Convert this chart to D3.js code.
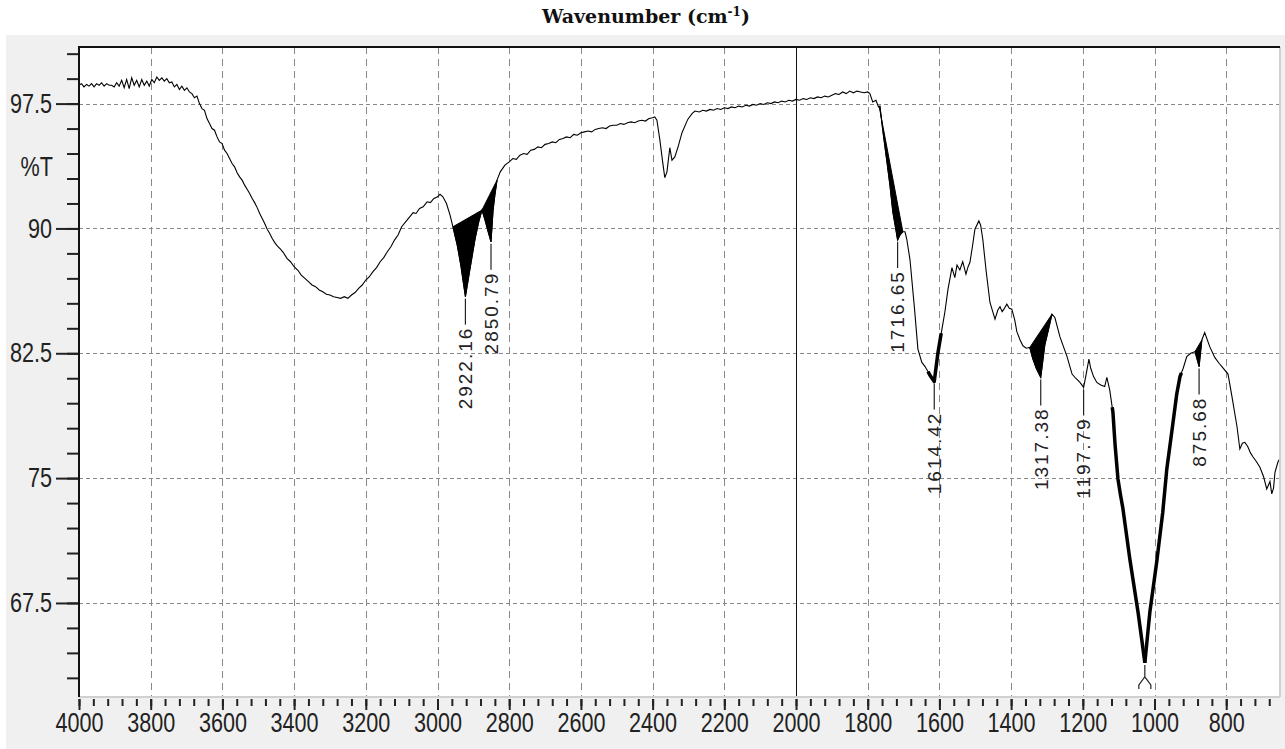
<!DOCTYPE html>
<html>
<head>
<meta charset="utf-8">
<script src="https://d3js.org/d3.v7.min.js"></script>
<style>
    body { margin: 0; background: #ffffff; }
    svg { display: block; }
    .tick-label { font-family: "Liberation Sans", Arial, sans-serif; font-size: 27px; fill: #222; }
    .peak-label { font-family: "Liberation Sans", Arial, sans-serif; font-size: 19px; letter-spacing: 2px; fill: #222; }
</style>
</head>
<body>
<svg id="vis_svg"></svg>
<script>
// Spectrum: [wavenumber cm-1, %T]
const spectrum = [
    [4000, 98.6], [3993, 98.7], [3986, 98.5], [3979, 98.65], [3972, 98.55], [3965, 98.7], [3958, 98.5],
    [3951, 98.7], [3944, 98.6], [3937, 98.75], [3930, 98.55], [3923, 98.7], [3916, 98.6], [3909, 98.6],
    [3902, 98.5], [3895, 98.75], [3888, 98.55], [3881, 98.9], [3874, 98.45], [3867, 98.95], [3860, 98.4],
    [3853, 99.05], [3846, 98.6], [3839, 98.9], [3832, 98.5], [3825, 98.95], [3818, 98.6], [3811, 98.85],
    [3804, 98.55], [3797, 98.95], [3790, 98.75], [3783, 99.1], [3776, 98.9], [3769, 99.05], [3762, 98.85],
    [3755, 99.0], [3748, 98.75], [3741, 98.8], [3734, 98.5], [3727, 98.65], [3720, 98.35], [3713, 98.55],
    [3706, 98.3], [3699, 98.45], [3692, 98.2], [3685, 98.1], [3678, 97.85], [3671, 97.95], [3664, 97.5],
    [3657, 97.2], [3650, 97.1], [3643, 96.6], [3636, 96.3], [3629, 96.0], [3622, 95.9], [3615, 95.5],
    [3608, 95.2], [3601, 95.1], [3594, 94.7], [3587, 94.5], [3580, 94.2], [3573, 93.9], [3566, 93.7],
    [3559, 93.35], [3552, 93.1], [3545, 92.9], [3538, 92.6], [3531, 92.35], [3524, 92.1], [3517, 91.8],
    [3510, 91.55], [3503, 91.25], [3496, 90.9], [3489, 90.6], [3482, 90.3], [3475, 89.95], [3468, 89.7],
    [3461, 89.4], [3454, 89.15], [3447, 88.95], [3438, 88.75], [3430, 88.55], [3420, 88.2], [3410, 88.0],
    [3400, 87.7], [3390, 87.5], [3380, 87.2], [3370, 87.0], [3360, 86.8], [3350, 86.6], [3340, 86.5],
    [3330, 86.3], [3320, 86.2], [3310, 86.05], [3300, 86.0], [3290, 85.9], [3280, 85.85], [3270, 85.8],
    [3260, 85.9], [3250, 85.8], [3240, 86.0], [3230, 86.15], [3220, 86.4], [3210, 86.6], [3200, 86.9],
    [3190, 87.1], [3180, 87.4], [3170, 87.65], [3160, 88.0], [3150, 88.25], [3140, 88.6], [3130, 88.9],
    [3120, 89.3], [3110, 89.6], [3100, 90.1], [3085, 90.5], [3068, 90.95], [3060, 90.9], [3050, 91.2],
    [3040, 91.3], [3029, 91.6], [3020, 91.55], [3010, 91.8], [3000, 91.9], [2993, 92.05], [2985, 91.9],
    [2975, 91.5], [2965, 90.8], [2957, 90.1], [2945, 89.0], [2935, 87.8], [2922.16, 85.9], [2910, 87.5],
    [2895, 89.4], [2885, 90.4], [2876, 91.1], [2868, 90.55], [2860, 89.9], [2850.79, 89.2], [2845, 91.1],
    [2840, 92.0], [2834, 92.9], [2825, 93.4], [2812, 93.8], [2800, 94.0], [2790, 94.2], [2780, 94.15],
    [2770, 94.4], [2760, 94.5], [2750, 94.45], [2740, 94.7], [2730, 94.75], [2720, 94.9], [2710, 94.85],
    [2700, 95.05], [2690, 95.1], [2680, 95.2], [2670, 95.15], [2660, 95.35], [2650, 95.4], [2640, 95.5],
    [2630, 95.45], [2620, 95.65], [2610, 95.6], [2600, 95.75], [2590, 95.8], [2580, 95.85], [2570, 95.8],
    [2560, 95.95], [2550, 96.0], [2540, 96.05], [2530, 96.0], [2520, 96.15], [2510, 96.2], [2500, 96.2],
    [2490, 96.3], [2480, 96.25], [2470, 96.35], [2460, 96.4], [2450, 96.35], [2440, 96.45], [2430, 96.5],
    [2420, 96.45], [2410, 96.6], [2400, 96.65], [2394, 96.7], [2388, 96.5], [2380, 95.35], [2372, 94.0],
    [2366, 93.05], [2360, 93.4], [2357, 93.95], [2352, 94.85], [2346, 94.1], [2338, 94.3], [2329, 94.9],
    [2318, 95.75], [2302, 96.55], [2290, 96.9], [2282, 97.05], [2270, 97.0], [2260, 97.1], [2250, 97.05],
    [2240, 97.15], [2230, 97.1], [2220, 97.2], [2210, 97.15], [2200, 97.25], [2190, 97.2], [2180, 97.3],
    [2170, 97.25], [2160, 97.35], [2150, 97.3], [2140, 97.4], [2130, 97.35], [2120, 97.45], [2110, 97.4],
    [2100, 97.5], [2090, 97.45], [2080, 97.55], [2070, 97.5], [2060, 97.6], [2050, 97.55], [2040, 97.65],
    [2030, 97.6], [2020, 97.7], [2010, 97.65], [2000, 97.75], [1990, 97.7], [1980, 97.8], [1970, 97.75],
    [1960, 97.85], [1950, 97.8], [1940, 97.9], [1930, 97.85], [1920, 97.95], [1910, 97.9], [1900, 98.0],
    [1890, 98.1], [1880, 98.05], [1870, 98.2], [1860, 98.1], [1850, 98.25], [1840, 98.15], [1830, 98.25],
    [1820, 98.2], [1810, 98.15], [1800, 98.2], [1794, 98.1], [1786, 97.6], [1777, 97.7], [1770, 97.3],
    [1766, 97.35], [1758, 95.9], [1747, 94.1], [1738, 92.6], [1730, 91.0], [1722, 90.0], [1716.65, 89.3],
    [1710, 89.6], [1702, 89.8], [1696, 89.8], [1691, 89.35], [1682, 88.1], [1670, 85.3], [1660, 82.75],
    [1649, 81.95], [1640, 81.7], [1632, 81.4], [1624, 81.1], [1614.42, 80.8], [1604, 82.55], [1595, 83.7],
    [1585, 84.95], [1576, 86.35], [1565, 87.65], [1557, 87.05], [1551, 87.8], [1543, 87.5], [1535, 88.0],
    [1526, 87.25], [1520, 87.7], [1515, 87.95], [1508, 88.9], [1501, 89.95], [1490, 90.45], [1485, 90.2],
    [1479, 89.35], [1470, 87.5], [1459, 85.55], [1445, 84.55], [1437, 85.1], [1431, 85.3], [1425, 85.0],
    [1420, 85.15], [1412, 85.45], [1405, 85.2], [1398, 85.15], [1390, 84.5], [1384, 83.8], [1375, 83.3],
    [1367, 82.95], [1358, 82.8], [1348, 82.85], [1340, 82.2], [1330, 81.6], [1317.38, 81.05], [1306, 83.0],
    [1295, 84.0], [1286, 84.85], [1278, 84.65], [1270, 84.0], [1264, 83.5], [1254, 82.9], [1244, 82.3],
    [1236, 81.7], [1230, 81.25], [1220, 81.0], [1208, 80.75], [1197.79, 80.45], [1191, 81.2], [1183, 82.15],
    [1178, 81.6], [1170, 81.1], [1161, 80.75], [1150, 80.6], [1139, 80.5], [1133, 81.05], [1125, 80.3],
    [1116, 78.95], [1110, 77.0], [1102, 74.95], [1095, 74.0], [1088, 73.15], [1069, 70.15], [1046, 66.95],
    [1035, 65.2], [1027, 63.9], [1013, 66.95], [994, 69.95], [977, 72.95], [966, 75.5], [952, 77.75],
    [938, 80.05], [929, 81.1], [920, 81.6], [910, 82.3], [899, 82.5], [887, 82.6], [875.68, 81.7],
    [868, 83.3], [860, 83.75], [846, 82.9], [832, 82.25], [820, 81.9], [812, 81.7], [795, 81.25],
    [784, 79.9], [770, 78.1], [762, 76.75], [755, 77.1], [748, 77.15], [740, 76.9], [732, 76.5],
    [726, 76.3], [716, 76.0], [706, 75.65], [696, 75.1], [687, 74.35], [678, 74.8], [673, 74.05],
    [668, 74.4], [664, 75.35], [656, 75.95], [650, 76.2]
];

// Axis ticks
const xTickValues = [4000, 3800, 3600, 3400, 3200, 3000, 2800, 2600, 2400, 2200, 2000, 1800, 1600, 1400, 1200, 1000, 800];
const yTickValues = [67.5, 75, 82.5, 90, 97.5];
const yAxisTitle = '%T';
const yAxisTitleAt = 93.75;

// Picked peaks (the deepest one has its label hidden below the frame)
const peakWn = [2922.16, 2850.79, 1716.65, 1614.42, 1317.38, 1197.79, 875.68];
const peakLabels = ['2922.16', '2850.79', '1716.65', '1614.42', '1317.38', '1197.79', '875.68'];
const hiddenPeakWn = 1027;

// Shaded peak areas (between curve and chord)
const fillFrom = [2957, 2876, 1768, 1348, 887];
const fillTo = [2876, 2834, 1702, 1286, 868];

// Heavier traced stretches
const boldFrom = [1632, 1118, 1027];
const boldTo = [1595, 1027, 925];

let scales = {};
let config = {
    'svg': {},
    'plot': {},
    'font': {}
};

/**
 * Set up the visualization
 */
function visSetup() {
    config.svg.width = 1285;
    config.svg.height = 749;

    config.plot.left = 79;
    config.plot.right = 1280;
    config.plot.top = 47;
    config.plot.bottom = 697;

    config.font.squeeze = 0.8;      // narrow look of the axis numbers

    scales.x = d3.scaleLinear()
        .domain([4000, 650])
        .range([config.plot.left, config.plot.right]);
    scales.y = d3.scaleLinear()
        .domain([61.85, 100.9])
        .range([config.plot.bottom, config.plot.top]);

    svg = d3.select('#vis_svg')
        .attr('width', config.svg.width)
        .attr('height', config.svg.height);

    // gray panel
    svg.append('rect')
        .attr('x', 6).attr('y', 35)
        .attr('width', config.svg.width - 6)
        .attr('height', config.svg.height - 35)
        .style('fill', '#f0f0f0');

    // plot area
    svg.append('rect')
        .attr('x', config.plot.left).attr('y', config.plot.top)
        .attr('width', config.plot.right - config.plot.left)
        .attr('height', config.plot.bottom - config.plot.top)
        .style('fill', '#ffffff');

    svg.append('clipPath').attr('id', 'plot_clip')
        .append('rect')
        .attr('x', config.plot.left).attr('y', config.plot.top)
        .attr('width', config.plot.right - config.plot.left)
        .attr('height', config.plot.bottom - config.plot.top);

    // title
    let title = svg.append('text')
        .attr('x', 646).attr('y', 23)
        .attr('text-anchor', 'middle')
        .style('font-family', '"DejaVu Serif", "Liberation Serif", serif')
        .style('font-weight', 'bold')
        .style('font-size', '19px')
        .style('fill', '#111');
    title.append('tspan').text('Wavenumber (cm');
    title.append('tspan').attr('dy', -7).style('font-size', '12px').text('-1');
    title.append('tspan').attr('dy', 7).text(')');
}

/**
 * Draw the visualization
 */
function visDraw() {
    let gridG = svg.append('g').attr('id', 'grid')
        .attr('shape-rendering', 'crispEdges');

    // vertical dashed grid
    gridG.selectAll('line.vgrid')
        .data(xTickValues.filter(d => d !== 4000 && d !== 2000))
        .enter().append('line')
        .attr('x1', d => Math.round(scales.x(d)) + 0.5).attr('x2', d => Math.round(scales.x(d)) + 0.5)
        .attr('y1', config.plot.top).attr('y2', config.plot.bottom)
        .style('stroke', '#888')
        .style('stroke-dasharray', '7,5');

    // horizontal dotted grid
    gridG.selectAll('line.hgrid')
        .data(yTickValues)
        .enter().append('line')
        .attr('x1', config.plot.left).attr('x2', config.plot.right)
        .attr('y1', d => Math.round(scales.y(d)) + 0.5).attr('y2', d => Math.round(scales.y(d)) + 0.5)
        .style('stroke', '#888')
        .style('stroke-dasharray', '4,3');

    // solid marker at 2000
    gridG.append('line')
        .attr('x1', Math.round(scales.x(2000)) + 0.5).attr('x2', Math.round(scales.x(2000)) + 0.5)
        .attr('y1', config.plot.top).attr('y2', config.plot.bottom)
        .style('stroke', '#111')
        .style('stroke-width', 1);

    let plotG = svg.append('g').attr('clip-path', 'url(#plot_clip)');

    let line = d3.line()
        .x(d => scales.x(d[0]))
        .y(d => scales.y(d[1]));

    // shaded peaks
    for (let i = 0; i < fillFrom.length; i++) {
        plotG.append('path')
            .attr('d', line(segment(fillFrom[i], fillTo[i])) + 'Z')
            .style('fill', '#000')
            .style('stroke', '#000')
            .style('stroke-width', 1);
    }

    // heavy stretches
    for (let i = 0; i < boldFrom.length; i++) {
        plotG.append('path')
            .attr('d', line(segment(boldFrom[i], boldTo[i])))
            .style('fill', 'none')
            .style('stroke', '#000')
            .style('stroke-width', 3.5)
            .style('stroke-linejoin', 'round');
    }

    // the spectrum
    plotG.append('path')
        .datum(spectrum)
        .attr('d', line)
        .style('fill', 'none')
        .style('stroke', '#000')
        .style('stroke-width', 1.1);

    // peak labels
    peakWn.forEach((wn, i) => {
        let x = scales.x(wn);
        let y0 = scales.y(valueAt(wn)) + 2;
        plotG.append('line')
            .attr('x1', x).attr('x2', x)
            .attr('y1', y0).attr('y2', y0 + 26)
            .style('stroke', '#222')
            .style('stroke-width', 1.2);
        plotG.append('text')
            .attr('class', 'peak-label')
            .attr('transform', translate(x, y0 + 28) + ' rotate(-90)')
            .attr('text-anchor', 'end')
            .attr('dy', '0.36em')
            .text(peakLabels[i]);
    });

    // marker of the deepest peak, its label falls below the frame
    let hx = scales.x(hiddenPeakWn);
    let hy = scales.y(valueAt(hiddenPeakWn)) + 2;
    plotG.append('path')
        .attr('d', 'M' + hx + ',' + hy + 'V' + (hy + 12) + 'L' + (hx - 6) + ',' + (hy + 20) + 'V' + (hy + 24)
            + 'M' + hx + ',' + (hy + 12) + 'L' + (hx + 6) + ',' + (hy + 20) + 'V' + (hy + 24))
        .style('fill', 'none')
        .style('stroke', '#222')
        .style('stroke-width', 1.2);

    // frame: dark top/left, light bottom/right
    svg.append('line')
        .attr('x1', config.plot.left).attr('x2', config.plot.right)
        .attr('y1', config.plot.bottom).attr('y2', config.plot.bottom)
        .style('stroke', '#d0d0d0').style('stroke-width', 2);
    svg.append('line')
        .attr('x1', config.plot.right).attr('x2', config.plot.right)
        .attr('y1', config.plot.top).attr('y2', config.plot.bottom)
        .style('stroke', '#d0d0d0').style('stroke-width', 2);
    svg.append('line')
        .attr('x1', config.plot.left - 1).attr('x2', config.plot.right)
        .attr('y1', config.plot.top).attr('y2', config.plot.top)
        .style('stroke', '#111').style('stroke-width', 2);
    svg.append('line')
        .attr('x1', config.plot.left).attr('x2', config.plot.left)
        .attr('y1', config.plot.top).attr('y2', config.plot.bottom)
        .style('stroke', '#111').style('stroke-width', 2);

    // y axis
    let yMinor = d3.axisLeft(scales.y)
        .tickValues(d3.range(63, 100.6, 1.5))
        .tickSize(11)
        .tickFormat('');
    let yMajor = d3.axisLeft(scales.y)
        .tickValues(yTickValues)
        .tickSize(22)
        .tickPadding(4)
        .tickFormat(d3.format('~g'));
    styleAxis(svg.append('g').attr('transform', translate(config.plot.left - 1, 0)).call(yMinor));
    styleAxis(svg.append('g').attr('transform', translate(config.plot.left - 1, 0)).call(yMajor));

    svg.append('text')
        .attr('class', 'tick-label')
        .attr('transform', translate(config.plot.left - 26, scales.y(yAxisTitleAt)) + ' scale(' + config.font.squeeze + ',1)')
        .attr('dy', '0.36em')
        .attr('text-anchor', 'end')
        .text(yAxisTitle);

    // x axis
    let xMinor = d3.axisBottom(scales.x)
        .tickValues(d3.range(4000, 659, -40))
        .tickSize(7)
        .tickFormat('');
    let xMajor = d3.axisBottom(scales.x)
        .tickValues(xTickValues)
        .tickSize(11)
        .tickPadding(3)
        .tickFormat(d3.format('d'));
    styleAxis(svg.append('g').attr('transform', translate(0, config.plot.bottom + 2)).call(xMinor));
    styleAxis(svg.append('g').attr('transform', translate(0, config.plot.bottom + 2)).call(xMajor));
}

// Helper functions

function styleAxis(g) {
    g.select('.domain').remove();
    g.selectAll('.tick line').style('stroke', '#222').style('stroke-width', 2);
    g.selectAll('.tick text')
        .attr('class', 'tick-label')
        .attr('fill', null)
        .each(function() {
            let t = d3.select(this);
            let x = +t.attr('x') || 0;
            t.attr('x', x / config.font.squeeze)
                .attr('transform', 'scale(' + config.font.squeeze + ',1)');
        });
    g.attr('font-family', null).attr('font-size', null);
}

function valueAt(wn) {
    for (let i = 0; i < spectrum.length - 1; i++) {
        let a = spectrum[i], b = spectrum[i + 1];
        if (wn <= a[0] && wn >= b[0]) {
            let t = (a[0] - wn) / (a[0] - b[0]);
            return a[1] + t * (b[1] - a[1]);
        }
    }
    return spectrum[spectrum.length - 1][1];
}

function segment(from, to) {
    let pts = [[from, valueAt(from)]];
    spectrum.forEach(p => {
        if (p[0] < from && p[0] > to) pts.push(p);
    });
    pts.push([to, valueAt(to)]);
    return pts;
}

function translate(x, y) {
    return 'translate(' + x + ',' + y + ')';
}

visSetup();
visDraw();
</script>
</body>
</html>
